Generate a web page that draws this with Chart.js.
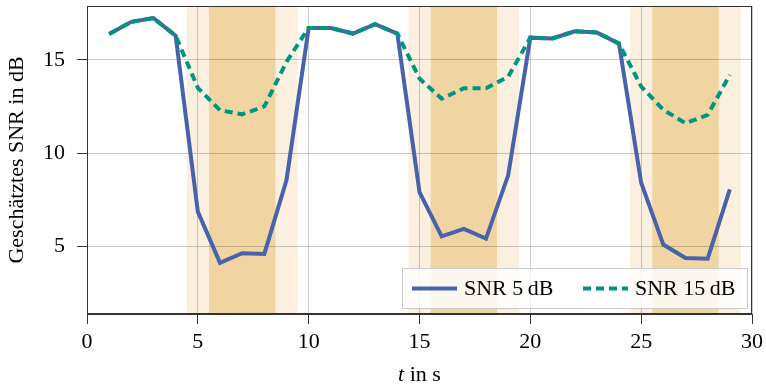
<!DOCTYPE html>
<html>
<head>
<meta charset="utf-8">
<script src="https://cdn.jsdelivr.net/npm/chart.js@4.4.0/dist/chart.umd.min.js"></script>
<style>
  html, body { margin: 0; padding: 0; background: #fff; }
</style>
</head>
<body>
<canvas id="snrChart" width="766" height="387"></canvas>
<script>
// Data
const timeSteps = [1, 2, 3, 4, 5, 6, 7, 8, 9, 10, 11, 12, 13, 14, 15, 16, 17, 18, 19, 20, 21, 22, 23, 24, 25, 26, 27, 28, 29];
const snr5 = [16.4, 17.05, 17.25, 16.3, 6.85, 4.1, 4.62, 4.58, 8.55, 16.72, 16.72, 16.42, 16.92, 16.42, 7.9, 5.52, 5.92, 5.4, 8.8, 16.2, 16.16, 16.54, 16.48, 15.88, 8.4, 5.08, 4.36, 4.32, 8.05];
const snr15 = [16.4, 17.05, 17.25, 16.3, 13.5, 12.3, 12.08, 12.5, 14.9, 16.72, 16.72, 16.42, 16.92, 16.42, 14.0, 12.92, 13.48, 13.48, 14.1, 16.2, 16.16, 16.54, 16.48, 15.88, 13.58, 12.32, 11.6, 12.05, 14.2];
const xTicks = [0, 5, 10, 15, 20, 25, 30];
const yTicks = [5, 10, 15];
const outerBands = [[4.5, 9.5], [14.5, 19.5], [24.5, 29.5]];
const innerBands = [[5.5, 8.5], [15.5, 18.5], [25.5, 28.5]];
const seriesLabels = ['SNR 5\u2009dB', 'SNR 15\u2009dB'];

const FONT = 'Liberation Serif';

function toPoints(ys) {
    return timeSteps.map((t, i) => ({ x: t, y: ys[i] }));
}

// shaded regions behind everything
const bandPlugin = {
    id: 'bands',
    beforeDraw(chart) {
        const { ctx, chartArea, scales: { x } } = chart;
        const h = chartArea.bottom - chartArea.top;
        ctx.save();
        ctx.fillStyle = '#fbf0df';
        outerBands.forEach(([a, b]) => {
            const x0 = x.getPixelForValue(a);
            ctx.fillRect(x0, chartArea.top, x.getPixelForValue(b) - x0, h);
        });
        ctx.fillStyle = '#f0d5a3';
        innerBands.forEach(([a, b]) => {
            const x0 = x.getPixelForValue(a);
            ctx.fillRect(x0, chartArea.top, x.getPixelForValue(b) - x0, h);
        });
        ctx.restore();
    }
};

// box frame, legend and axis titles
const decorPlugin = {
    id: 'decor',
    afterDatasetsDraw(chart) {
        const { ctx, chartArea } = chart;
        ctx.save();
        ctx.strokeStyle = '#333';
        ctx.lineWidth = 1;
        ctx.strokeRect(chartArea.left + 0.5, chartArea.top + 0.5,
            chartArea.right - chartArea.left - 1, chartArea.bottom - chartArea.top - 1);
        ctx.restore();
    },
    afterDraw(chart) {
        const { ctx, chartArea } = chart;
        ctx.save();

        // legend box
        const boxW = 346, boxH = 41;
        const bx = chartArea.right - 4 - boxW;
        const by = chartArea.bottom - 5 - boxH;
        ctx.fillStyle = 'rgba(255,255,255,0.8)';
        ctx.fillRect(bx, by, boxW, boxH);
        ctx.strokeStyle = '#cccccc';
        ctx.lineWidth = 1;
        ctx.strokeRect(bx + 0.5, by + 0.5, boxW - 1, boxH - 1);

        const offsets = [10, 181];
        const cy = by + boxH / 2;
        chart.data.datasets.forEach((ds, i) => {
            const lx = bx + offsets[i];
            ctx.beginPath();
            ctx.setLineDash(ds.borderDash || []);
            ctx.strokeStyle = ds.borderColor;
            ctx.lineWidth = ds.borderWidth;
            ctx.moveTo(lx, cy);
            ctx.lineTo(lx + 45, cy);
            ctx.stroke();
            ctx.setLineDash([]);
            ctx.fillStyle = '#000';
            ctx.font = `22px "${FONT}"`;
            ctx.textAlign = 'left';
            ctx.textBaseline = 'middle';
            ctx.fillText(ds.label, lx + 52, cy + 1);
        });

        // y title
        ctx.fillStyle = '#000';
        ctx.font = `22px "${FONT}"`;
        ctx.textAlign = 'center';
        ctx.textBaseline = 'middle';
        ctx.save();
        ctx.translate(17, (chartArea.top + chartArea.bottom) / 2);
        ctx.rotate(-Math.PI / 2);
        ctx.fillText('Geschätztes SNR in dB', 0, 0);
        ctx.restore();

        // x title, italic t
        const cx = (chartArea.left + chartArea.right) / 2;
        ctx.font = `italic 22px "${FONT}"`;
        const tW = ctx.measureText('t').width;
        ctx.font = `22px "${FONT}"`;
        const restW = ctx.measureText(' in s').width;
        let sx = cx - (tW + restW) / 2;
        ctx.textAlign = 'left';
        ctx.font = `italic 22px "${FONT}"`;
        ctx.fillText('t', sx, 375);
        ctx.font = `22px "${FONT}"`;
        ctx.fillText(' in s', sx + tW, 375);

        ctx.restore();
    }
};

const ctx = document.getElementById('snrChart').getContext('2d');
new Chart(ctx, {
    type: 'line',
    data: {
        datasets: [
            {
                label: seriesLabels[0],
                data: toPoints(snr5),
                borderColor: '#4862ab',
                borderWidth: 4,
                pointRadius: 0,
                fill: false,
                tension: 0,
                order: 2
            },
            {
                label: seriesLabels[1],
                data: toPoints(snr15),
                borderColor: '#00957f',
                borderWidth: 4,
                borderDash: [8, 5],
                pointRadius: 0,
                fill: false,
                tension: 0,
                order: 1
            }
        ]
    },
    options: {
        responsive: false,
        animation: false,
        layout: { padding: { top: 6, right: 14, left: 0, bottom: 0 } },
        scales: {
            x: {
                type: 'linear',
                min: 0,
                max: 30,
                afterBuildTicks: s => { s.ticks = xTicks.map(v => ({ value: v })); },
                afterFit: s => { s.height = 73; s.paddingLeft = 0; s.paddingRight = 0; },
                grid: { color: 'rgba(0,0,0,0.2)', tickColor: '#333', tickLength: 10 },
                border: { color: '#333' },
                ticks: { color: '#000', font: { family: FONT, size: 22 }, padding: 5, maxRotation: 0 }
            },
            y: {
                min: 1.35,
                max: 17.9,
                afterBuildTicks: s => { s.ticks = yTicks.map(v => ({ value: v })); },
                afterFit: s => { s.width = 87; s.paddingTop = 0; s.paddingBottom = 0; },
                grid: { color: 'rgba(0,0,0,0.2)', tickColor: '#333', tickLength: 10 },
                border: { color: '#333' },
                ticks: { color: '#000', font: { family: FONT, size: 22 }, padding: 12 }
            }
        },
        plugins: {
            legend: { display: false },
            tooltip: { enabled: false }
        }
    },
    plugins: [bandPlugin, decorPlugin]
});
</script>
</body>
</html>
